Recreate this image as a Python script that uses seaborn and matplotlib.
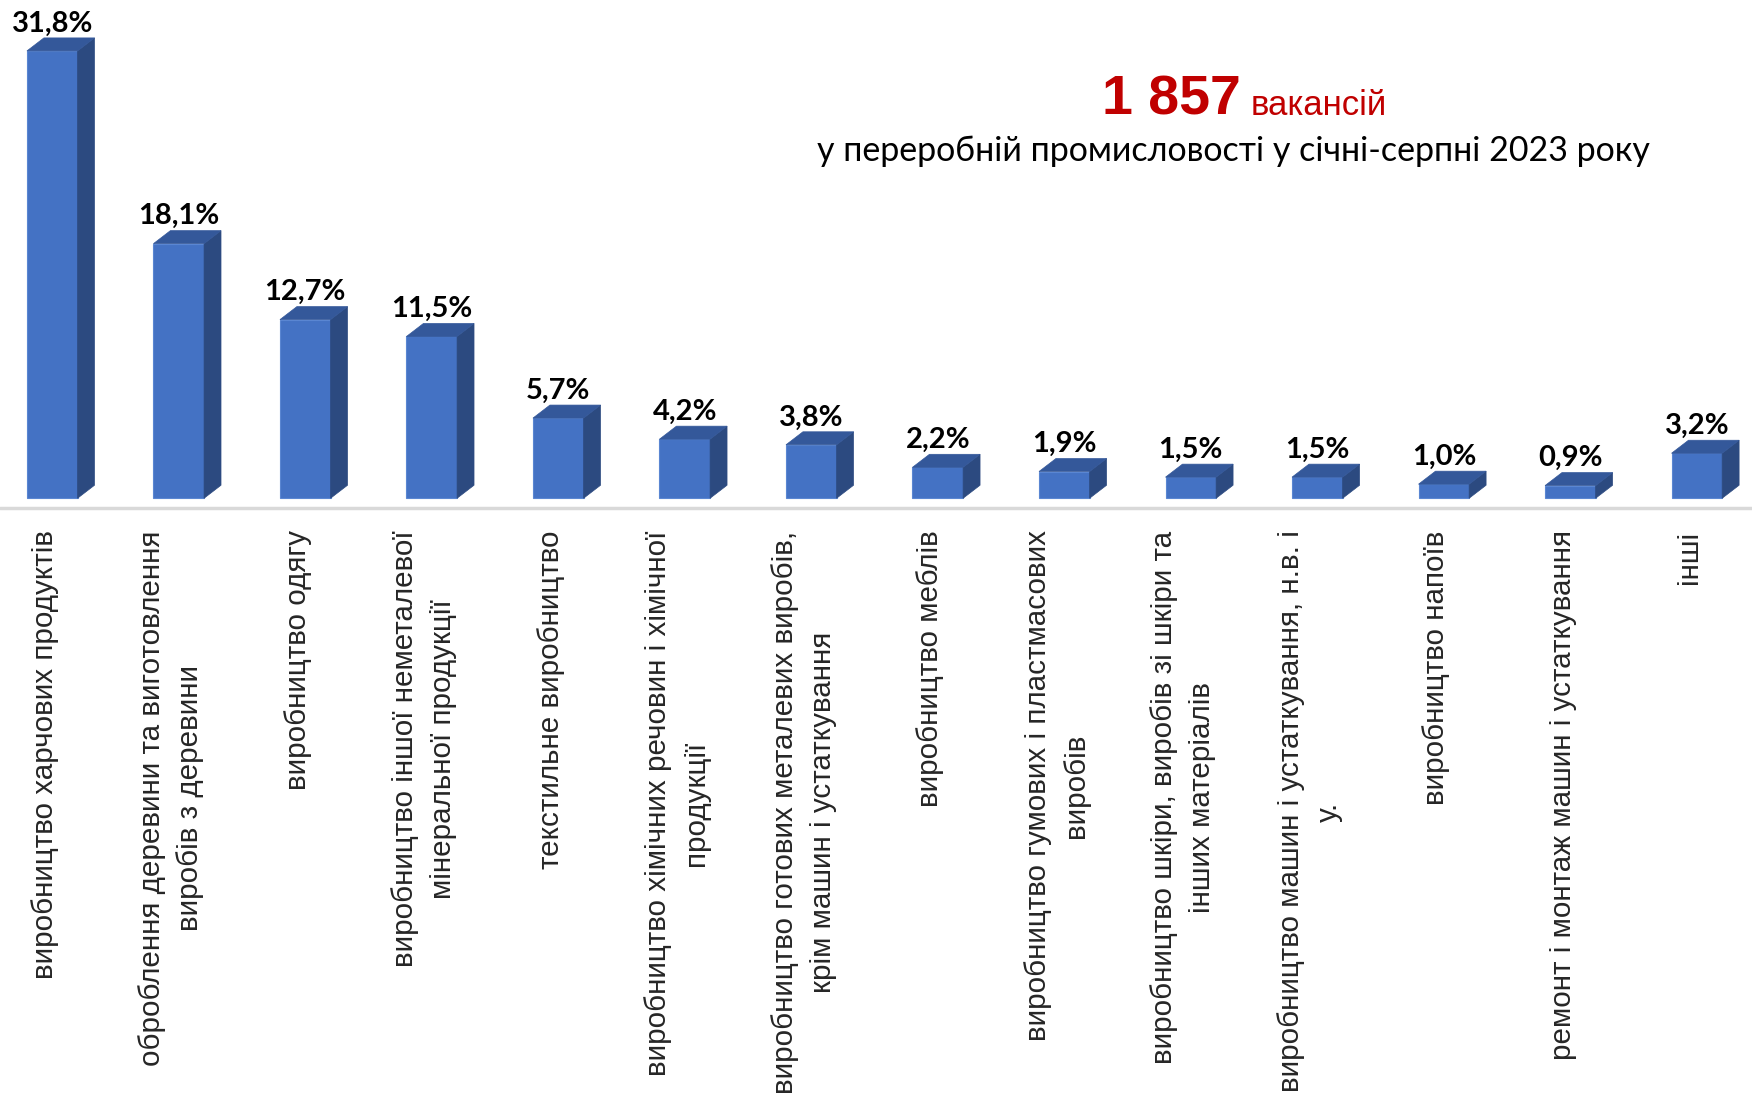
import matplotlib
matplotlib.use("Agg")
import matplotlib.pyplot as plt
from matplotlib.patches import Polygon
import seaborn as sns
import numpy as np
import pandas as pd

categories = [
    "виробництво харчових продуктів",
    "оброблення деревини та виготовлення\nвиробів з деревини",
    "виробництво одягу",
    "виробництво іншої неметалевої\nмінеральної продукції",
    "текстильне виробництво",
    "виробництво хімічних речовин і хімічної\nпродукції",
    "виробництво готових металевих виробів,\nкрім машин і устаткування",
    "виробництво меблів",
    "виробництво гумових і пластмасових\nвиробів",
    "виробництво шкіри, виробів зі шкіри та\nінших матеріалів",
    "виробництво машин і устаткування, н.в. і\nу.",
    "виробництво напоїв",
    "ремонт і монтаж машин і устаткування",
    "інші",
]
shares = [31.8, 18.1, 12.7, 11.5, 5.7, 4.2, 3.8, 2.2, 1.9, 1.5, 1.5, 1.0, 0.9, 3.2]
total_vacancies = "1 857"
title_word = "вакансій"
subtitle = "у переробній промисловості у січні-серпні 2023 року"

df = pd.DataFrame({"cat": [str(i) for i in range(len(shares))], "share": shares})

sns.set_theme(style="white")
plt.rcParams['font.family'] = ['Liberation Sans', 'DejaVu Sans']

front = "#4472C4"
side = "#2C4A80"
top = "#34589A"

fig = plt.figure(figsize=(17.52, 10.93), dpi=100)
ax = fig.add_axes([0, 0.535, 1, 0.465])

sns.barplot(data=df, x="cat", y="share", color=front, width=0.4,
            saturation=1, ax=ax, edgecolor="#5A86D2", linewidth=0.8)

ax.set_xlim(-0.413, 13.436)
ax.set_ylim(-0.71, 35.42)

# pseudo-3D depth (in data units)
ddx = 0.134
ddy = 0.925
for p, v in zip(ax.patches, shares):
    x0 = p.get_x()
    w = p.get_width()
    h = p.get_height()
    ax.add_patch(Polygon([(x0 + w, 0), (x0 + w + ddx, ddy), (x0 + w + ddx, h + ddy), (x0 + w, h)],
                         closed=True, facecolor=side, edgecolor=side, lw=0.5))
    ax.add_patch(Polygon([(x0, h), (x0 + ddx, h + ddy), (x0 + w + ddx, h + ddy), (x0 + w, h)],
                         closed=True, facecolor=top, edgecolor=top, lw=0.5))
    ax.text(x0 + w / 2, h + ddy + 0.1, f"{v:.1f}".replace(".", ",") + "%",
            ha="center", va="bottom", fontsize=21, fontweight="bold",
            family=["Lato", "DejaVu Sans"], color="black")

ax.axhline(-0.71, color="#D9D9D9", lw=2.5, clip_on=False)

ax.set_xticks(np.arange(len(categories)) - 0.06)
ax.set_xticklabels(categories, rotation=90, ha="center", va="top",
                   multialignment="center", fontsize=21.3, linespacing=1.45)
ax.tick_params(axis="x", length=0, pad=16)
ax.set_yticks([])
ax.set_xlabel("")
ax.set_ylabel("")
for s in ax.spines.values():
    s.set_visible(False)

# title
fig.text(0.708, 0.895, total_vacancies, ha="right", va="baseline", fontsize=40,
         fontweight="bold", color="#C00000", family=["Liberation Sans Narrow", "Liberation Sans"])
fig.text(0.714, 0.895, title_word, ha="left", va="baseline", fontsize=25,
         color="#C00000", family=["Liberation Sans Narrow", "Liberation Sans"])
fig.text(0.704, 0.853, subtitle, ha="center", va="baseline", fontsize=24.5,
         color="black", family=["Lato", "DejaVu Sans"])

fig.savefig("out.png", dpi=100)
